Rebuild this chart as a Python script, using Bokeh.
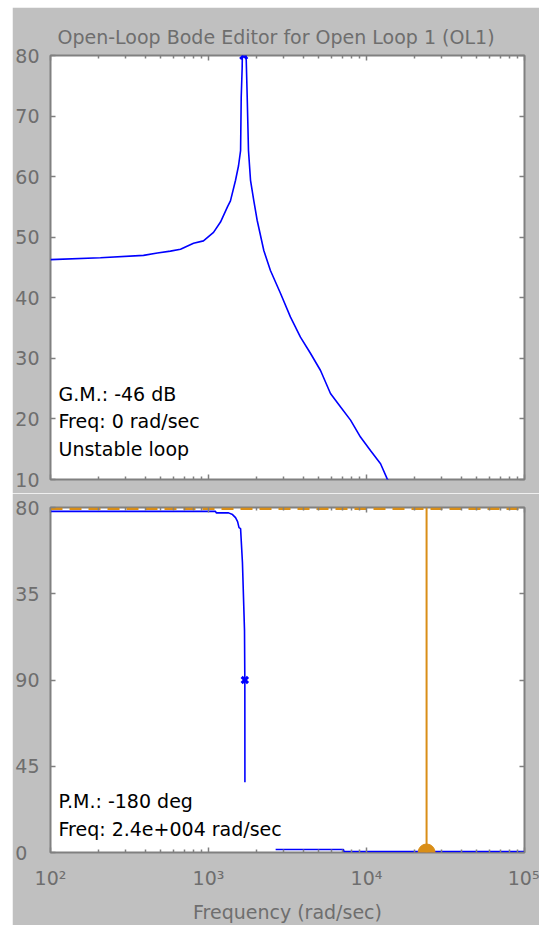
from bokeh.plotting import figure
from bokeh.layouts import column
from bokeh.models import FixedTicker, LinearAxis, LogAxis, Label, Range1d
from bokeh.embed import file_html
from bokeh.resources import INLINE

# ---------------- data ----------------
title_text = "Open-Loop Bode Editor for Open Loop 1 (OL1)"
x_label = "Frequency (rad/sec)"

mag_freq = [100, 207, 388, 475, 574, 665, 804, 929, 1076, 1191, 1318, 1377, 1483, 1549,
            1596, 1611, 1633, 1671, 1758, 1791, 1845, 1936, 2032, 2239, 2466, 2858, 3304,
            3819, 4426, 5117, 5916, 6839, 7925, 9162, 10593, 12274, 13521, 17783]
mag_db = [46.3, 46.6, 47.0, 47.4, 47.7, 48.0, 49.0, 49.4, 50.8, 52.5, 55.0, 56.0, 59.4, 61.8,
          64.3, 73.1, 77.9, 95.0, 73.1, 64.3, 59.4, 56.0, 52.8, 47.8, 44.5, 40.7, 36.8,
          33.5, 30.8, 28.0, 24.2, 22.0, 19.8, 17.0, 14.8, 12.6, 10.1, 6.0]

phase1_freq = [100, 1107, 1120, 1340, 1419, 1483, 1528, 1560, 1596, 1640, 1690, 1698, 1700]
phase1_deg = [178.0, 178.0, 177.2, 177.2, 176.3, 174.7, 172.6, 169.5, 169.0, 151.3, 115.8, 90.0, 36.7]
phase2_freq = [2660, 7145, 7200, 100000]
phase2_deg = [1.6, 1.6, 0.5, 0.5]

gm_marker_freq = [1671]
gm_marker_db = [80]
pm_marker_freq = [1698]
pm_marker_deg = [90]

crossover_freq = [24000, 24000]
crossover_deg = [0, 180]
crossover_dot_deg = [0]
ref_phase_freq = [100, 100000]
ref_phase_deg = [179.3, 179.3]

x_ticks = [100, 1000, 10000, 100000]
x_tick_labels = ["10\u00b2", "10\u00b3", "10\u2074", "10\u2075"]
mag_ticks = [10, 20, 30, 40, 50, 60, 70, 80]
phase_ticks = [0, 45, 90, 135, 180]
phase_tick_labels = ["0\u00a0\u00a0", "45", "90", "35", "80"]

gm_lines = ["G.M.: -46 dB", "Freq: 0 rad/sec", "Unstable loop"]
pm_lines = ["P.M.: -180 deg", "Freq: 2.4e+004 rad/sec"]

# ---------------- styles ----------------
FONT = "DejaVu Sans"
GRAY_BG = "#c0c0c0"
AX_COL = "#808080"
TXT_COL = "#6e6e6e"
BLUE = "#0000ff"
ORANGE = "#d98e17"

FIG_W = 527
minor_x = [m * 10 ** k for k in range(2, 5) for m in range(2, 10)]


def style(p):
    p.border_fill_color = GRAY_BG
    p.background_fill_color = "white"
    p.outline_line_color = AX_COL
    p.outline_line_width = 2
    p.grid.visible = False
    p.min_border_left = 38
    p.min_border_right = 15


def style_axis(ax, labels=True):
    ax.axis_line_color = None
    ax.major_tick_line_color = AX_COL
    ax.minor_tick_line_color = AX_COL
    ax.major_tick_line_width = 1.5
    ax.minor_tick_line_width = 1.5
    ax.major_tick_in = 5
    ax.major_tick_out = 0
    ax.minor_tick_in = 3
    ax.minor_tick_out = 0
    if labels:
        ax.major_label_text_font = FONT
        ax.major_label_text_font_size = "19px"
        ax.major_label_text_color = TXT_COL
        ax.major_label_standoff = 11
    else:
        ax.major_label_text_font_size = "1px"
        ax.major_label_text_color = None
        ax.major_label_standoff = 0


def x_ticker():
    return FixedTicker(ticks=x_ticks, minor_ticks=minor_x)


# ---------------- magnitude plot ----------------
p1 = figure(width=FIG_W, height=486, x_axis_type="log",
            x_range=Range1d(100, 100000), y_range=Range1d(10, 80),
            output_backend="svg", toolbar_location=None,
            min_border_top=48, min_border_bottom=14)
style(p1)
p1.title.text = title_text
p1.title.align = "left"
p1.title.offset = 7
p1.title.text_font = FONT
p1.title.text_font_size = "19px"
p1.title.text_font_style = "normal"
p1.title.text_color = TXT_COL
p1.title.vertical_align = "top"
p1.title.standoff = 11

p1.xaxis.ticker = x_ticker()
style_axis(p1.xaxis[0], labels=False)
p1.yaxis.ticker = FixedTicker(ticks=mag_ticks, minor_ticks=[])
style_axis(p1.yaxis[0])
top1 = LogAxis(ticker=x_ticker())
style_axis(top1, labels=False)
p1.add_layout(top1, "above")
right1 = LinearAxis(ticker=FixedTicker(ticks=mag_ticks, minor_ticks=[]))
style_axis(right1, labels=False)
p1.add_layout(right1, "right")

p1.line(mag_freq, mag_db, line_color=BLUE, line_width=1.6)
p1.scatter(gm_marker_freq, gm_marker_db, marker="x", size=10, line_color=BLUE, line_width=3)

for i, t in enumerate(gm_lines):
    p1.add_layout(Label(x=100, y=10, x_offset=8, y_offset=86 - 27.5 * i, text=t,
                        text_font=FONT, text_font_size="19px", text_color="black",
                        text_baseline="middle", text_align="left"))

# ---------------- phase plot ----------------
p2 = figure(width=FIG_W, height=432, x_axis_type="log",
            x_range=p1.x_range, y_range=Range1d(0, 180),
            output_backend="svg", toolbar_location=None,
            min_border_top=14, min_border_bottom=73)
style(p2)
p2.xaxis.ticker = x_ticker()
style_axis(p2.xaxis[0])
p2.xaxis.major_label_overrides = dict(zip(x_ticks, x_tick_labels))
p2.xaxis.major_label_standoff = 14
p2.xaxis.axis_label = x_label
p2.xaxis.axis_label_text_font = FONT
p2.xaxis.axis_label_text_font_size = "19px"
p2.xaxis.axis_label_text_font_style = "normal"
p2.xaxis.axis_label_text_color = TXT_COL
p2.xaxis.axis_label_standoff = 9
p2.yaxis.ticker = FixedTicker(ticks=phase_ticks, minor_ticks=[])
p2.yaxis.major_label_overrides = dict(zip(phase_ticks, phase_tick_labels))
style_axis(p2.yaxis[0])
top2 = LogAxis(ticker=x_ticker())
style_axis(top2, labels=False)
p2.add_layout(top2, "above")
right2 = LinearAxis(ticker=FixedTicker(ticks=phase_ticks, minor_ticks=[]))
style_axis(right2, labels=False)
p2.add_layout(right2, "right")

p2.line(ref_phase_freq, ref_phase_deg, line_color=ORANGE, line_width=2.5, line_dash="12 7")
p2.line(phase1_freq, phase1_deg, line_color=BLUE, line_width=1.6)
p2.line(phase2_freq, phase2_deg, line_color=BLUE, line_width=1.6)
p2.line(crossover_freq, crossover_deg, line_color=ORANGE, line_width=2)
p2.scatter(crossover_freq[:1], crossover_dot_deg, marker="circle", size=17,
           fill_color=ORANGE, line_color=ORANGE)
p2.scatter(pm_marker_freq, pm_marker_deg, marker="x", size=9, line_color=BLUE, line_width=3)

for i, t in enumerate(pm_lines):
    p2.add_layout(Label(x=100, y=0, x_offset=8, y_offset=52 - 28 * i, text=t,
                        text_font=FONT, text_font_size="19px", text_color="black",
                        text_baseline="middle", text_align="left"))

layout = column(p1, p2, spacing=0, margin=(7, 0, 0, 12))
open("out.html", "w").write(file_html(layout, INLINE))
